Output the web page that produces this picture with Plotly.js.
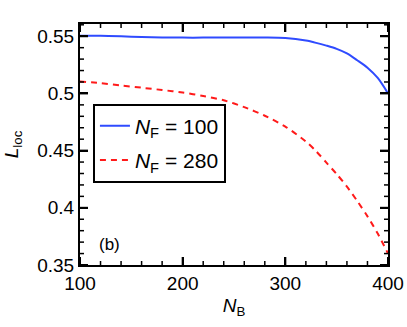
<!DOCTYPE html>
<html>
<head>
<meta charset="utf-8">
<script src="https://cdn.plot.ly/plotly-3.0.1.min.js"></script>
<style>html,body{margin:0;padding:0;background:#fff;}#plot{width:407px;height:327px;}</style>
</head>
<body>
<div id="plot"></div>
<script>
const nB = [100,120,140,160,180,200,220,240,260,280,300,320,330,340,350,360,370,380,390,400];
const lineF100 = [0.5505,0.5505,0.5500,0.5493,0.5490,0.5488,0.5488,0.5489,0.5490,0.5489,0.5484,0.5462,0.5442,0.5418,0.5390,0.5350,0.5290,0.5225,0.5135,0.5000];
const lineF280 = [0.5105,0.5090,0.5070,0.5050,0.5030,0.5008,0.4978,0.4940,0.4880,0.4805,0.4710,0.4580,0.4495,0.4395,0.4295,0.4185,0.4060,0.3925,0.3775,0.3600];
const names = ['<i>N</i><sub>F</sub> = 100', '<i>N</i><sub>F</sub> = 280'];
const xMajor = [100,200,300,400];
const xMinor = [120,140,160,180,220,240,260,280,320,340,360,380];
const yMajor = [0.35,0.4,0.45,0.5,0.55];
const yMinor = [0.36,0.37,0.38,0.39,0.41,0.42,0.43,0.44,0.46,0.47,0.48,0.49,0.51,0.52,0.53,0.54,0.56];
const xRange = [100,400], yRange = [0.35,0.5607];

const W = 407, H = 327, M = {l:80, r:19, t:24, b:62};
const pw = W - M.l - M.r, ph = H - M.t - M.b;

const shapes = [];
function addXTicks(vals, lenPx, width){
  const f = lenPx / ph;
  vals.forEach(v => {
    shapes.push({type:'line', xref:'x', yref:'paper', x0:v, x1:v, y0:0, y1:f, layer:'above', line:{color:'#000', width:width}});
    shapes.push({type:'line', xref:'x', yref:'paper', x0:v, x1:v, y0:1, y1:1 - f, layer:'above', line:{color:'#000', width:width}});
  });
}
function addYTicks(vals, lenPx, width){
  const f = lenPx / pw;
  vals.forEach(v => {
    shapes.push({type:'line', xref:'paper', yref:'y', y0:v, y1:v, x0:0, x1:f, layer:'above', line:{color:'#000', width:width}});
    shapes.push({type:'line', xref:'paper', yref:'y', y0:v, y1:v, x0:1, x1:1 - f, layer:'above', line:{color:'#000', width:width}});
  });
}
addXTicks(xMajor, 8, 2); addXTicks(xMinor, 4, 1.5);
addYTicks(yMajor, 8, 2); addYTicks(yMinor, 4, 1.5);

const traces = [
  {x:nB, y:lineF100, type:'scatter', mode:'lines', name:names[0], legendgroup:'a',
   line:{color:'#2f4bff', width:2, shape:'spline', smoothing:0.8}},
  {x:nB, y:lineF280, type:'scatter', mode:'lines', name:names[1], legendgroup:'b',
   line:{color:'#ff1a1a', width:2, dash:'6px,5px', shape:'spline', smoothing:0.8}}
];
const fontFam = 'Liberation Sans, Arial, sans-serif';
const layout = {
  width:W, height:H,
  margin:M,
  font:{family:fontFam, size:19, color:'#000'},
  showlegend:true,
  legend:{x:0.042, y:0.67, xanchor:'left', yanchor:'top', bgcolor:'#fff',
    bordercolor:'#000', borderwidth:2, font:{family:fontFam, size:21, color:'#000'},
    tracegroupgap:4, itemwidth:30},
  xaxis:{range:xRange, tickmode:'array', tickvals:xMajor, ticktext:xMajor.map(String),
    ticks:'inside', ticklen:8, tickwidth:2, tickcolor:'#000',
    showline:true, linewidth:2, linecolor:'#000', mirror:'ticks', showgrid:false, zeroline:false,
    tickfont:{size:19},
    title:{text:'<i>N</i><sub>B</sub>', font:{size:19}, standoff:6}},
  yaxis:{range:yRange, tickmode:'array', tickvals:yMajor, ticktext:['0.35','0.4','0.45','0.5','0.55'],
    ticks:'inside', ticklen:8, tickwidth:2, tickcolor:'#000',
    showline:true, linewidth:2, linecolor:'#000', mirror:'ticks', showgrid:false, zeroline:false,
    tickfont:{size:19},
    title:{text:'<i>L</i><sub>loc</sub>', font:{size:19}, standoff:14}},
  shapes:shapes,
  annotations:[{xref:'paper', yref:'paper', x:0.055, y:0.085, xanchor:'left', yanchor:'middle',
    text:'(b)', showarrow:false, font:{family:fontFam, size:17, color:'#000'}}]
};
Plotly.newPlot('plot', traces, layout, {displayModeBar:false});
</script>
</body>
</html>
